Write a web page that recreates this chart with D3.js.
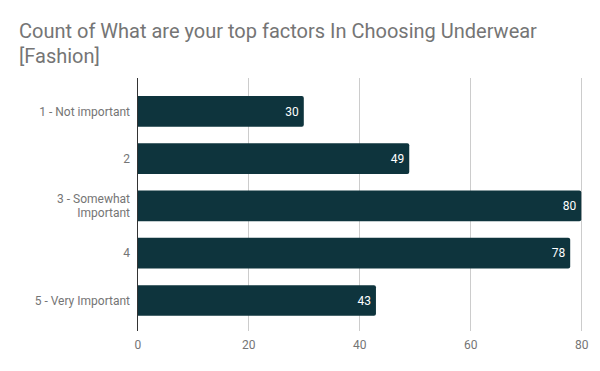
<!DOCTYPE html>
<html><head><meta charset="utf-8">
<script src="https://cdn.jsdelivr.net/npm/d3@7"></script>
<style>body{margin:0;background:#fff}svg{display:block;font-family:Roboto,sans-serif}</style>
</head><body>
<svg id="c" width="600" height="371"></svg>
<script>
const categories = ["1 - Not important", "2", "3 - Somewhat Important", "4", "5 - Very Important"];
const categoryLines = [["1 - Not important"], ["2"], ["3 - Somewhat", "Important"], ["4"], ["5 - Very Important"]];
const values = [30, 49, 80, 78, 43];
const xTicks = [0, 20, 40, 60, 80];
const titleLines = ["Count of What are your top factors In Choosing Underwear", "[Fashion]"];

(function(){
const svg = d3.select("#c");
svg.append("rect").attr("width",600).attr("height",371).attr("fill","#fff");

const x = d3.scaleLinear().domain([0,80]).range([137.3,581.3]);
const y = d3.scaleBand().domain(categories).range([87.65,324.15]).paddingInner(0.35).paddingOuter(0.175);
const plotTop = 78, plotBottom = 331;

// title
const t = svg.append("text").attr("fill","#757575").attr("font-size",20);
titleLines.forEach((l,i)=>t.append("tspan").attr("x",19).attr("y",38+i*25).text(l));

// gridlines
svg.append("g").selectAll("line").data(xTicks.slice(1)).join("line")
  .attr("x1",d=>Math.round(x(d))+0.5).attr("x2",d=>Math.round(x(d))+0.5)
  .attr("y1",plotTop).attr("y2",plotBottom).attr("stroke","#cccccc").attr("stroke-width",1);

// x tick labels via axis
const xa = svg.append("g").attr("transform",`translate(0,${plotBottom})`)
  .call(d3.axisBottom(x).tickValues(xTicks).tickSize(0).tickPadding(9));
xa.select(".domain").remove();
xa.selectAll("text").attr("fill","#757575").attr("font-size",12).attr("font-family","Roboto,sans-serif");

// bars with rounded right corners
const r = 2;
svg.append("g").selectAll("path").data(values).join("path")
  .attr("fill","#0e343d")
  .attr("d",(d,i)=>{
    const x0 = x(0), x1 = x(d), y0 = y(categories[i]), h = y.bandwidth();
    return `M${x0},${y0}H${x1-r}Q${x1},${y0} ${x1},${y0+r}V${y0+h-r}Q${x1},${y0+h} ${x1-r},${y0+h}H${x0}Z`;
  });

// value labels
svg.append("g").selectAll("text").data(values).join("text")
  .attr("x",d=>x(d)-5).attr("y",(d,i)=>y(categories[i])+y.bandwidth()/2)
  .attr("dy","0.35em").attr("text-anchor","end").attr("fill","#ffffff").attr("font-size",12)
  .text(d=>d);

// category labels
const yl = svg.append("g");
categories.forEach((c,i)=>{
  const lines = categoryLines[i];
  const cy = y(c)+y.bandwidth()/2;
  const txt = yl.append("text").attr("text-anchor","end").attr("fill","#757575").attr("font-size",12);
  lines.forEach((l,j)=>{
    txt.append("tspan").attr("x",130).attr("y",cy + (j-(lines.length-1)/2)*14).attr("dy","0.35em").text(l);
  });
});

// axis line at zero
svg.append("line").attr("x1",137.5).attr("x2",137.5).attr("y1",plotTop).attr("y2",plotBottom)
  .attr("stroke","#333333").attr("stroke-width",1);
})();
</script>
</body></html>
